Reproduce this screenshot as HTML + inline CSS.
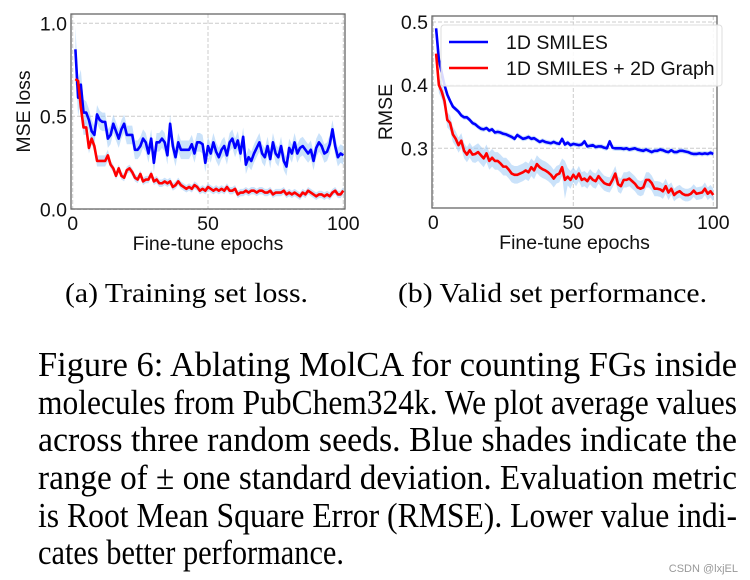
<!DOCTYPE html>
<html><head><meta charset="utf-8">
<style>
html,body{margin:0;padding:0;background:#fff;}
svg{display:block;}
.tk{font-family:"Liberation Sans",sans-serif;font-size:19.5px;fill:#111;}
.sf{font-family:"Liberation Serif",serif;fill:#000;}
</style></head>
<body>
<svg id="fig" width="750" height="580" xmlns="http://www.w3.org/2000/svg">
<g id="chartA"></g>
<g id="chartB"></g>
<text class="sf" x="65" y="302" font-size="27" textLength="243" lengthAdjust="spacingAndGlyphs">(a) Training set loss.</text>
<text class="sf" x="398" y="302" font-size="27" textLength="309" lengthAdjust="spacingAndGlyphs">(b) Valid set performance.</text>
<g>
<text class="sf" x="38" y="376" font-size="35" textLength="699" lengthAdjust="spacingAndGlyphs">Figure 6:  Ablating MolCA for counting FGs inside</text>
<text class="sf" x="38" y="414" font-size="35" textLength="699" lengthAdjust="spacingAndGlyphs">molecules from PubChem324k. We plot average values</text>
<text class="sf" x="38" y="451" font-size="35" textLength="699" lengthAdjust="spacingAndGlyphs">across three random seeds.  Blue shades indicate the</text>
<text class="sf" x="38" y="489" font-size="35" textLength="699" lengthAdjust="spacingAndGlyphs">range of ± one standard deviation. Evaluation metric</text>
<text class="sf" x="38" y="527" font-size="35" textLength="699" lengthAdjust="spacingAndGlyphs">is Root Mean Square Error (RMSE). Lower value indi-</text>
<text class="sf" x="38" y="564" font-size="35" textLength="306" lengthAdjust="spacingAndGlyphs">cates better performance.</text>
</g>
<text x="738" y="572" font-family="Liberation Sans,sans-serif" font-size="11" fill="#999" text-anchor="end">CSDN @lxjEL</text>
</svg>
<script>
const epochs = Array.from({length:100},(_,i)=>i+1);
const lossSmiles = [0.86,0.60,0.67,0.52,0.52,0.48,0.42,0.40,0.51,0.48,0.47,0.47,0.38,0.40,0.46,0.42,0.38,0.43,0.46,0.40,0.40,0.40,0.32,0.32,0.34,0.38,0.36,0.30,0.38,0.25,0.36,0.36,0.38,0.36,0.29,0.46,0.34,0.28,0.36,0.32,0.32,0.32,0.32,0.35,0.30,0.36,0.36,0.35,0.25,0.34,0.30,0.36,0.31,0.28,0.32,0.34,0.29,0.36,0.38,0.33,0.37,0.30,0.39,0.24,0.28,0.26,0.30,0.33,0.36,0.30,0.28,0.34,0.27,0.36,0.30,0.28,0.34,0.26,0.23,0.33,0.30,0.36,0.30,0.33,0.34,0.32,0.30,0.32,0.26,0.33,0.36,0.34,0.30,0.31,0.35,0.43,0.34,0.28,0.30,0.29];
const lossGraph = [0.70,0.69,0.55,0.44,0.44,0.33,0.38,0.34,0.26,0.26,0.26,0.26,0.29,0.24,0.22,0.18,0.22,0.18,0.17,0.21,0.22,0.20,0.17,0.16,0.19,0.15,0.16,0.16,0.19,0.15,0.16,0.14,0.14,0.15,0.14,0.15,0.12,0.13,0.15,0.13,0.12,0.11,0.12,0.11,0.13,0.12,0.10,0.11,0.10,0.12,0.11,0.10,0.11,0.10,0.11,0.10,0.12,0.10,0.10,0.11,0.08,0.09,0.09,0.10,0.09,0.10,0.10,0.09,0.10,0.10,0.09,0.09,0.10,0.08,0.09,0.09,0.09,0.10,0.08,0.09,0.08,0.09,0.08,0.07,0.09,0.08,0.10,0.09,0.08,0.07,0.08,0.08,0.07,0.08,0.07,0.09,0.10,0.08,0.08,0.10];
const lossSdSmiles = [0.12,0.10,0.08,0.07,0.06,0.06,0.06,0.05,0.05,0.05,0.05,0.05,0.05,0.05,0.05,0.05,0.05,0.05,0.05,0.05,0.05,0.05,0.05,0.05,0.05,0.05,0.05,0.05,0.05,0.05,0.05,0.05,0.05,0.05,0.05,0.05,0.05,0.05,0.05,0.05,0.05,0.05,0.05,0.05,0.05,0.05,0.05,0.05,0.05,0.05,0.05,0.05,0.05,0.05,0.05,0.05,0.05,0.05,0.05,0.05,0.05,0.05,0.05,0.05,0.05,0.05,0.05,0.05,0.05,0.05,0.05,0.05,0.05,0.05,0.05,0.05,0.05,0.05,0.05,0.05,0.05,0.05,0.05,0.05,0.05,0.05,0.05,0.05,0.05,0.05,0.05,0.05,0.05,0.05,0.05,0.05,0.05,0.05,0.05,0.05];
const lossSdGraph = [0.03,0.04,0.04,0.04,0.04,0.03,0.03,0.03,0.03,0.03,0.03,0.03,0.03,0.02,0.02,0.02,0.02,0.02,0.02,0.02,0.02,0.02,0.02,0.02,0.02,0.02,0.02,0.02,0.02,0.02,0.02,0.02,0.02,0.02,0.02,0.02,0.02,0.02,0.02,0.02,0.02,0.02,0.02,0.02,0.02,0.02,0.02,0.02,0.02,0.02,0.02,0.02,0.02,0.02,0.02,0.02,0.02,0.02,0.02,0.02,0.02,0.02,0.02,0.02,0.02,0.02,0.02,0.02,0.02,0.02,0.02,0.02,0.02,0.02,0.02,0.02,0.02,0.02,0.02,0.02,0.02,0.02,0.02,0.02,0.02,0.02,0.02,0.02,0.02,0.02,0.02,0.02,0.02,0.02,0.02,0.02,0.02,0.02,0.02,0.02];
const rmseSmiles = [0.490,0.440,0.420,0.400,0.385,0.375,0.366,0.362,0.358,0.352,0.349,0.349,0.345,0.340,0.338,0.334,0.331,0.330,0.332,0.328,0.330,0.325,0.326,0.325,0.323,0.322,0.320,0.318,0.315,0.321,0.318,0.315,0.316,0.318,0.315,0.316,0.313,0.310,0.312,0.310,0.309,0.308,0.310,0.308,0.307,0.315,0.306,0.309,0.305,0.307,0.306,0.305,0.306,0.311,0.303,0.304,0.305,0.302,0.303,0.303,0.301,0.300,0.311,0.301,0.300,0.300,0.300,0.299,0.300,0.298,0.299,0.300,0.298,0.297,0.296,0.298,0.296,0.294,0.296,0.296,0.298,0.297,0.295,0.294,0.297,0.294,0.294,0.296,0.296,0.295,0.294,0.292,0.291,0.291,0.292,0.291,0.292,0.291,0.293,0.291];
const rmseGraph = [0.450,0.400,0.390,0.375,0.345,0.340,0.322,0.315,0.305,0.312,0.296,0.290,0.297,0.290,0.291,0.294,0.289,0.284,0.292,0.280,0.285,0.280,0.280,0.276,0.271,0.271,0.266,0.260,0.258,0.258,0.260,0.262,0.265,0.262,0.270,0.265,0.275,0.270,0.267,0.265,0.262,0.258,0.252,0.258,0.260,0.270,0.250,0.255,0.250,0.258,0.252,0.260,0.250,0.252,0.248,0.255,0.250,0.248,0.256,0.250,0.245,0.243,0.242,0.250,0.260,0.243,0.240,0.250,0.250,0.252,0.248,0.244,0.238,0.236,0.238,0.250,0.250,0.245,0.236,0.236,0.235,0.232,0.240,0.230,0.236,0.226,0.230,0.232,0.228,0.226,0.226,0.228,0.233,0.228,0.229,0.230,0.236,0.228,0.232,0.226];
const rmseSdSmiles = [0.006,0.006,0.005,0.005,0.005,0.004,0.004,0.004,0.004,0.004,0.004,0.004,0.004,0.004,0.004,0.004,0.004,0.004,0.004,0.004,0.004,0.004,0.004,0.004,0.004,0.004,0.004,0.004,0.004,0.004,0.004,0.004,0.004,0.004,0.004,0.004,0.004,0.004,0.004,0.004,0.004,0.004,0.004,0.004,0.004,0.004,0.004,0.004,0.004,0.004,0.004,0.004,0.004,0.004,0.004,0.004,0.004,0.004,0.004,0.004,0.004,0.004,0.004,0.004,0.004,0.004,0.004,0.004,0.004,0.004,0.004,0.004,0.004,0.004,0.004,0.004,0.004,0.004,0.004,0.004,0.004,0.004,0.004,0.004,0.004,0.004,0.004,0.004,0.004,0.004,0.004,0.004,0.004,0.004,0.004,0.004,0.004,0.004,0.004,0.004];
const rmseSdGraph = [0.010,0.012,0.012,0.012,0.012,0.012,0.012,0.012,0.012,0.012,0.012,0.012,0.012,0.012,0.014,0.014,0.014,0.014,0.014,0.014,0.014,0.014,0.014,0.014,0.014,0.014,0.014,0.014,0.014,0.014,0.014,0.014,0.014,0.014,0.014,0.014,0.014,0.014,0.014,0.014,0.014,0.014,0.014,0.014,0.014,0.014,0.030,0.014,0.014,0.012,0.012,0.012,0.012,0.012,0.012,0.012,0.012,0.012,0.012,0.012,0.012,0.012,0.012,0.012,0.012,0.012,0.012,0.012,0.012,0.012,0.012,0.012,0.012,0.012,0.012,0.012,0.012,0.012,0.012,0.012,0.012,0.012,0.012,0.012,0.010,0.010,0.010,0.010,0.010,0.010,0.010,0.010,0.010,0.010,0.010,0.010,0.010,0.010,0.010,0.010];
const xTicks = [0,50,100];
const yTicksA = [0.0,0.5,1.0];
const yTickLabelsA = ["0.0","0.5","1.0"];
const yTicksB = [0.3,0.4,0.5];
const yTickLabelsB = ["0.3","0.4","0.5"];
const legendLabels = ["1D SMILES","1D SMILES + 2D Graph"];

const NS="http://www.w3.org/2000/svg";
function mk(parent,tag,attrs){const e=document.createElementNS(NS,tag);for(const k in attrs)e.setAttribute(k,attrs[k]);parent.appendChild(e);return e;}

function drawChart(g,cfg){
  const {left,right,top,bottom,x0px,x100px,yA,yApx,yB,yBpx}=cfg;
  const sx=v=>x0px+(v-0)*(x100px-x0px)/100;
  const sy=v=>yApx+(v-yA)*(yBpx-yApx)/(yB-yA);
  cfg.yt.forEach(v=>{const l=mk(g,'line',{x1:left,x2:right,y1:sy(v),y2:sy(v),stroke:'#ccc','stroke-dasharray':'4,2','stroke-width':1});
    
    });
  xTicks.forEach(v=>{const l=mk(g,'line',{x1:sx(v),x2:sx(v),y1:top,y2:bottom,stroke:'#ccc','stroke-dasharray':'4,2','stroke-width':1});
    
    });
  cfg.series.forEach(s=>{
    let up=s.y.map((v,i)=>sx(epochs[i])+','+sy(v+s.sd[i]));
    let lo=s.y.map((v,i)=>sx(epochs[i])+','+sy(v-s.sd[i])).reverse();
    const b=mk(g,'polygon',{points:up.concat(lo).join(' '),fill:'#9ecbf5','fill-opacity':0.55,stroke:'none'});
    
    
  });
  cfg.series.forEach(s=>{
    const p=mk(g,'polyline',{points:s.y.map((v,i)=>sx(epochs[i])+','+sy(v)).join(' '),fill:'none',stroke:s.color,'stroke-width':2.6,'stroke-linejoin':'round'});
    
    
  });
  const fr=mk(g,'rect',{x:left,y:top,width:right-left,height:bottom-top,fill:'none',stroke:'#666','stroke-width':1.3});
  
  
  xTicks.forEach(v=>{const t=mk(g,'text',{x:sx(v),y:bottom+21,'text-anchor':'middle',class:'tk'});t.textContent=v;
    
    });
  cfg.yt.forEach((v,i)=>{const t=mk(g,'text',{x:left-4,y:sy(v)+7,'text-anchor':'end',class:'tk'});t.textContent=cfg.ytl[i];
    
    });
  const xl=mk(g,'text',{x:(left+right)/2,y:bottom+41,'text-anchor':'middle',class:'tk'});xl.textContent='Fine-tune epochs';
  
  
  const yl=mk(g,'text',{x:0,y:0,'text-anchor':'middle',class:'tk',transform:`translate(${cfg.ylx},${(top+bottom)/2}) rotate(-90)`});yl.textContent=cfg.ylabel;
  
  
}

drawChart(document.getElementById('chartA'),{left:71,right:345,top:14,bottom:209,x0px:72.7,x100px:343.3,yA:0,yApx:209.3,yB:1,yBpx:23.3,yt:yTicksA,ytl:yTickLabelsA,ylabel:'MSE loss',ylx:30,
  series:[{name:'smiles',y:lossSmiles,sd:lossSdSmiles,color:'#0000ff'},{name:'smiles-graph',y:lossGraph,sd:lossSdGraph,color:'#ff0000'}]});
drawChart(document.getElementById('chartB'),{left:432,right:717,top:16,bottom:208,x0px:433.3,x100px:713.3,yA:0.3,yApx:148.3,yB:0.5,yBpx:22,yt:yTicksB,ytl:yTickLabelsB,ylabel:'RMSE',ylx:392,
  series:[{name:'smiles',y:rmseSmiles,sd:rmseSdSmiles,color:'#0000ff'},{name:'smiles-graph',y:rmseGraph,sd:rmseSdGraph,color:'#ff0000'}]});

const gB=document.getElementById('chartB');
const lg=mk(gB,'g',{});


const lr=mk(lg,'rect',{x:441,y:25,width:281,height:61,rx:3,fill:'#fff','fill-opacity':0.85,stroke:'#ddd'});


['#0000ff','#ff0000'].forEach((c,i)=>{
  const y=42+i*26;
  const l=mk(lg,'line',{x1:449,x2:488,y1:y,y2:y,stroke:c,'stroke-width':2.6});
  
  
  const t=mk(lg,'text',{x:506,y:y+7,class:'tk','font-size':'18.5px'});t.textContent=legendLabels[i];
  
  
});
</script>
</body></html>
